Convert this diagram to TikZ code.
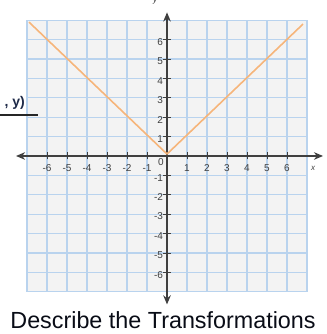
\documentclass[tikz,border=0pt]{standalone}
\usepackage{fontspec}
\setmainfont{Liberation Sans}
\usetikzlibrary{arrows.meta, positioning, calc}
\definecolor{gridblue}{HTML}{B9D3EE}
\definecolor{gridback}{HTML}{F3F3F3}
\definecolor{vline}{HTML}{F6B57A}
\definecolor{axisgray}{HTML}{3F3F3F}
\definecolor{navy}{HTML}{1E2A48}
\tikzset{
  gridline/.style={draw=gridblue, line width=0.8pt},
  axis/.style={draw=axisgray, line width=1.1pt, {Stealth[length=2.4mm, width=2mm]}-{Stealth[length=2.4mm, width=2mm]}},
  tick/.style={draw=axisgray, line width=0.6pt},
  ticklabel/.style={font=\fontsize{7.5}{8}\selectfont, text=axisgray, inner sep=1pt},
  axislabel/.style={font=\fontsize{6}{7}\selectfont\itshape, text=axisgray, inner sep=0pt},
  graph/.style={draw=vline, line width=1.2pt, line join=round},
  title/.style={font=\fontsize{17.5}{20}\selectfont, text=navy!30!black}
}

\begin{document}
\begin{tikzpicture}[x=15pt, y=14.55pt]
        \useasboundingbox (-8.35,-9.175) rectangle (7.95,8.04);
        \clip (-8.35,-9.175) rectangle (7.95,8.04);

        % Grid
        \fill[gridback] (-7,-7) rectangle (7,7);
        \draw[gridline, step=1] (-7,-7) grid (7,7);

        % Axes
        \coordinate (xmin) at (-7.55,0);
        \coordinate (xmax) at (7.8,0);
        \coordinate (ymin) at (0,-7.65);
        \coordinate (ymax) at (0,7.4);
        \draw[axis] (xmin) -- (xmax);
        \draw[axis] (ymin) -- (ymax);

        % Ticks
        \foreach \i in {-6,...,-1,1,2,...,6} {
          \draw[tick] (\i,-0.18) -- (\i,0.18);
          \draw[tick] (-0.18,\i) -- (0.18,\i);
          \node[ticklabel] (xl\i) at (\i,-0.62) {\i};
          \node[ticklabel, anchor=east] (yl\i) at (-0.12,\i-0.12) {\i};
        }
        \node[ticklabel] (orig) at (-0.3,-0.3) {0};
        \node[axislabel] (xlab) at (7.3,-0.62) {x};
        \node[axislabel, anchor=base] (ylab) at (-0.6,7.9) {y};

        % Graph
        \coordinate (vleft) at (-6.9,6.9);
        \coordinate (vtx) at (0,0.1);
        \coordinate (vright) at (6.8,6.8);
        \draw[graph] (vleft) -- (vtx) -- (vright);

        % Side label
        \node[anchor=east, font=\fontsize{10.5}{12}\selectfont\bfseries, text=navy, inner sep=0pt] (pt) at (-7.1,2.75) {, y)};
        \coordinate (ulstart) at (-8.4,2.11);
        \coordinate (ulend) at (-6.45,2.11);
        \draw[line width=1.1pt, black!85] (ulstart) -- (ulend);

        % Title
        \node[title] (title) at (-0.2,-8.45) {Describe the Transformations};
    \end{tikzpicture}
\end{document}
